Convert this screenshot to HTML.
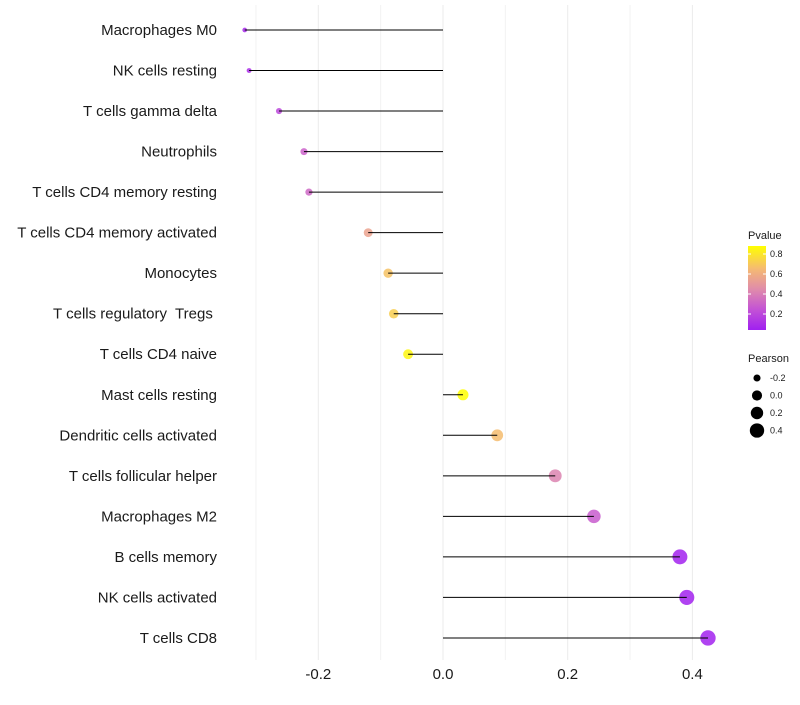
<!DOCTYPE html>
<html><head><meta charset="utf-8"><style>
body{margin:0;background:#fff;font-family:"Liberation Sans",sans-serif}
</style></head><body>
<svg id="chart" width="800" height="700" font-family="Liberation Sans, sans-serif"></svg>
<script>
const categories=["Macrophages M0","NK cells resting","T cells gamma delta","Neutrophils","T cells CD4 memory resting","T cells CD4 memory activated","Monocytes","T cells regulatory  Tregs ","T cells CD4 naive","Mast cells resting","Dendritic cells activated","T cells follicular helper","Macrophages M2","B cells memory","NK cells activated","T cells CD8"];
const pearson=[-0.318,-0.311,-0.263,-0.223,-0.215,-0.120,-0.088,-0.079,-0.056,0.032,0.087,0.180,0.242,0.380,0.391,0.425];
const pvalues=[0.08,0.1,0.2,0.3,0.32,0.55,0.68,0.72,0.85,0.9,0.66,0.42,0.28,0.05,0.05,0.05];
const xTicks=[-0.2,0.0,0.2,0.4];
const xMinor=[-0.3,-0.1,0.1,0.3];
const cbTicks=[0.2,0.4,0.6,0.8];
const sizeTicks=[-0.2,0.0,0.2,0.4];

const svg=document.getElementById('chart');
const NS='http://www.w3.org/2000/svg';
function mk(t,a,p){const e=document.createElementNS(NS,t);for(const k in a)e.setAttribute(k,a[k]);(p||svg).appendChild(e);return e;}
const x=v=>443+v*623.5;
const y=i=>30+i*40.53;
const r=v=>Math.sqrt(Math.max(2,14+(v+0.2)*72));
const stops=[[0.04,[160,32,240]],[0.25,[196,84,212]],[0.45,[224,140,170]],[0.65,[245,185,115]],[0.88,[255,255,0]]];
function col(p){p=Math.max(0.04,Math.min(0.88,p));
 for(let k=0;k<stops.length-1;k++){const [a,ca]=stops[k],[b,cb]=stops[k+1];
  if(p<=b){const t=(p-a)/(b-a);return `rgb(${ca.map((c,j)=>Math.round(c+(cb[j]-c)*t)).join(',')})`;}}
 return 'rgb(255,255,0)';}
const g=mk('g',{});


xMinor.forEach(v=>mk('line',{x1:x(v),x2:x(v),y1:5,y2:660,stroke:'#f2f2f2','stroke-width':1},g));
xTicks.forEach(v=>mk('line',{x1:x(v),x2:x(v),y1:5,y2:660,stroke:'#ebebeb','stroke-width':1},g));
xTicks.forEach(v=>{const t=mk('text',{x:x(v),y:679,'text-anchor':'middle','font-size':15,fill:'#1a1a1a'});t.textContent=v.toFixed(1);

});
categories.forEach((c,i)=>{
 const t=mk('text',{x:217,y:y(i)+5,'text-anchor':'end','font-size':15,fill:'#1a1a1a','xml:space':'preserve'});t.textContent=c;
 t.style.whiteSpace='pre';
 
 
 const pt=mk('circle',{cx:x(pearson[i]),cy:y(i),r:r(pearson[i]),fill:col(pvalues[i]),'fill-opacity':0.85});
 
 
 const ln=mk('line',{x1:x(0),x2:x(pearson[i]),y1:y(i),y2:y(i),stroke:'#000','stroke-width':1});
 
 
});
const lg=mk('g',{});


const defs=mk('defs',{});
const gr=mk('linearGradient',{id:'cb',x1:0,y1:1,x2:0,y2:0},defs);
stops.forEach(s=>mk('stop',{offset:(s[0]-0.04)/0.84,'stop-color':`rgb(${s[1].join(',')})`},gr));
let tt=mk('text',{x:748,y:239,'font-size':11,fill:'#1a1a1a'},lg);tt.textContent='Pvalue';
mk('rect',{x:748,y:246,width:18,height:84,fill:'url(#cb)'},lg);
const cy=p=>334-p*100;
cbTicks.forEach(p=>{mk('line',{x1:748,x2:751,y1:cy(p),y2:cy(p),stroke:'#fff'},lg);mk('line',{x1:763,x2:766,y1:cy(p),y2:cy(p),stroke:'#fff'},lg);
 const t=mk('text',{x:770,y:cy(p)+3,'font-size':9,fill:'#1a1a1a'},lg);t.textContent=p.toFixed(1);});
const sg=mk('g',{});


tt=mk('text',{x:748,y:362,'font-size':11,fill:'#1a1a1a'},sg);tt.textContent='Pearson';
sizeTicks.forEach((v,i)=>{const yy=378+i*17.5;mk('circle',{cx:757,cy:yy,r:r(v)*0.95,fill:'#000'},sg);
 const t=mk('text',{x:770,y:yy+3,'font-size':9,fill:'#1a1a1a'},sg);t.textContent=v.toFixed(1);});
</script>
</body></html>
